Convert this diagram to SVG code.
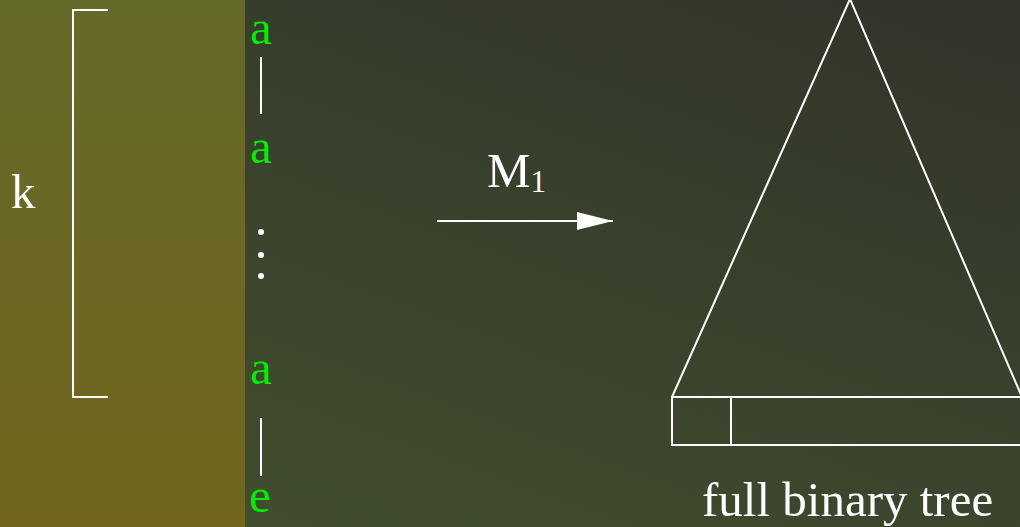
<svg xmlns="http://www.w3.org/2000/svg" width="1020" height="527" viewBox="0 0 1020 527">
<defs>
<linearGradient id="bgR" x1="1" y1="0" x2="0.3" y2="1">
<stop offset="0" stop-color="#31342a"/>
<stop offset="1" stop-color="#414d2e"/>
</linearGradient>
<linearGradient id="bgL" x1="0" y1="0" x2="0" y2="1">
<stop offset="0" stop-color="#65692a"/>
<stop offset="1" stop-color="#72661d"/>
</linearGradient>
<marker id="ah" markerWidth="36" markerHeight="18" refX="36" refY="9" orient="auto" markerUnits="userSpaceOnUse">
<path d="M0,0 L36,9 L0,18 Z" fill="#fff"/>
</marker>
</defs>
<style>
.w{stroke:#fff;stroke-width:2;fill:none}
.t{font-family:"Liberation Serif",serif;font-size:49px;fill:#fff}
.g{font-family:"Liberation Serif",serif;font-size:49px;fill:#00f000}
</style>
<rect width="1020" height="527" fill="url(#bgR)"/>
<rect width="245" height="527" fill="url(#bgL)"/>
<g id="bracket">
<path class="w" d="M108,10 H73 V397 H108"/>
<text class="t" x="11" y="208">k</text>
</g>
<g id="string">
<text class="g" x="250" y="44">a</text>
<text class="g" x="250" y="163">a</text>
<text class="g" x="250" y="384">a</text>
<text class="g" x="249" y="512">e</text>
<circle cx="261" cy="232" r="3" fill="#fff"/>
<circle cx="261" cy="255" r="3" fill="#fff"/>
<circle cx="261" cy="276" r="3" fill="#fff"/>
</g>
<g id="connectors">
<line class="w" x1="261" y1="57" x2="261" y2="114"/>
<line class="w" x1="261" y1="418" x2="261" y2="476"/>
<line class="w" x1="437" y1="221" x2="613" y2="221" marker-end="url(#ah)"/>
</g>
<g id="label-m1">
<text class="t" x="487" y="187" font-size="47">M<tspan font-size="31" dy="5">1</tspan></text>
</g>
<g id="tree">
<path class="w" d="M672,397 L850,-1 L1022,397"/>
<rect class="w" x="672" y="397" width="360" height="48"/>
<line class="w" x1="731" y1="397" x2="731" y2="445"/>
<text class="t" x="702" y="516">full binary tree</text>
</g>
</svg>
